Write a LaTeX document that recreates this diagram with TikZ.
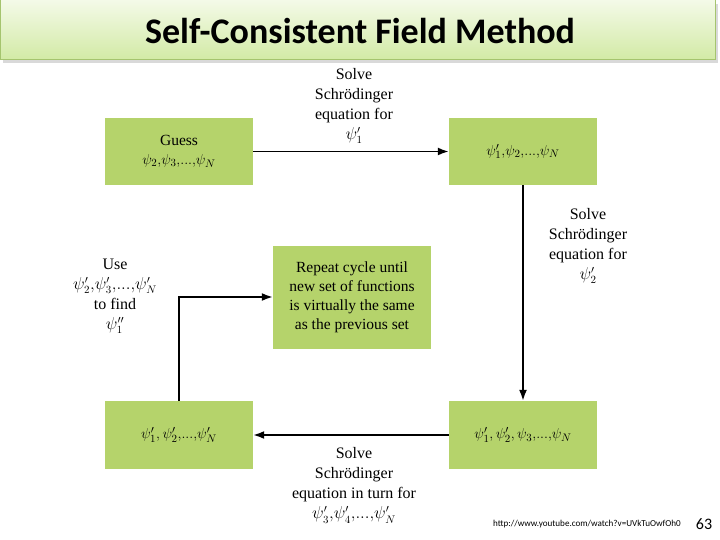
\documentclass[tikz,border=0pt]{standalone}
\usepackage{fontspec}
\setmainfont{Liberation Serif}
\newfontfamily\titlefont{Carlito}
\usetikzlibrary{arrows.meta}
\definecolor{boxgreen}{RGB}{181,211,107}
\definecolor{bannertop}{RGB}{244,250,232}
\definecolor{bannerbot}{RGB}{210,234,165}
\definecolor{bannerline}{RGB}{165,196,110}
\tikzset{
  stepbox/.style={fill=boxgreen, minimum width=148pt, minimum height=67pt, align=center, inner sep=2pt, font=\fontsize{15.5}{19}\selectfont},
  lbl/.style={align=center, inner sep=0pt, font=\fontsize{16}{20}\selectfont},
  flow/.style={-{Latex[length=11pt,width=8pt]}, line width=1.8pt}
}
\begin{document}
\begin{tikzpicture}[x=1pt,y=-1pt]
    \useasboundingbox (0,0) rectangle (720,540);
    % title banner
    \fill[black!15] (3,4) rectangle (718,63);
    \shade[top color=bannertop, bottom color=bannerbot, draw=bannerline, line width=1pt] (0,0) rectangle (715,60);
    \node (title) at (360,31) {\titlefont\bfseries\fontsize{36}{40}\selectfont Self-Consistent Field Method};

    % boxes
    \node[stepbox] (guess) at (179,151.5) {Guess\\ $\psi_2{,}\psi_3{,}...{,}\psi_N$};
    \node[stepbox] (first) at (523,151.5) {$\psi'_1{,}\psi_2{,}...{,}\psi_N$};
    \node[stepbox, minimum height=68pt] (second) at (523,435) {$\psi'_1, \psi'_2, \psi_3{,}...{,}\psi_N$};
    \node[stepbox, minimum height=68pt] (all) at (179,435) {$\psi'_1, \psi'_2{,}...{,}\psi'_N$};
    \node[stepbox, minimum width=158pt, minimum height=103pt] (repeat) at (352,297) {Repeat cycle until\\ new set of functions\\ is virtually the same\\ as the previous set};

    % arrows
    \draw[flow] (guess) -- (first);
    \draw[flow] (first) -- (second);
    \draw[flow] (second) -- (all);
    \draw[flow] (all.north) |- (repeat.west);

    % labels
    \node[lbl] (solvea) at (354,106) {Solve\\ Schrödinger\\ equation for\\ $\psi'_1$};
    \node[lbl] (solveb) at (588,246) {Solve\\ Schrödinger\\ equation for\\ $\psi'_2$};
    \node[lbl] (use) at (115,296.5) {Use\\ $\psi'_2{,}\psi'_3{,}...{,}\psi'_N$\\ to find\\ $\psi''_1$};
    \node[lbl] (solvec) at (354,485.5) {Solve\\ Schrödinger\\ equation in turn for\\ $\psi'_3{,}\psi'_4{,}...{,}\psi'_N$};

    % footer
    \node (url) at (587,524) {\titlefont\fontsize{9.1}{11}\selectfont http://www.youtube.com/watch?v=UVkTuOwfOh0};
    \node (page) at (704,524) {\titlefont\fontsize{16}{18}\selectfont 63};
\end{tikzpicture}
\end{document}
